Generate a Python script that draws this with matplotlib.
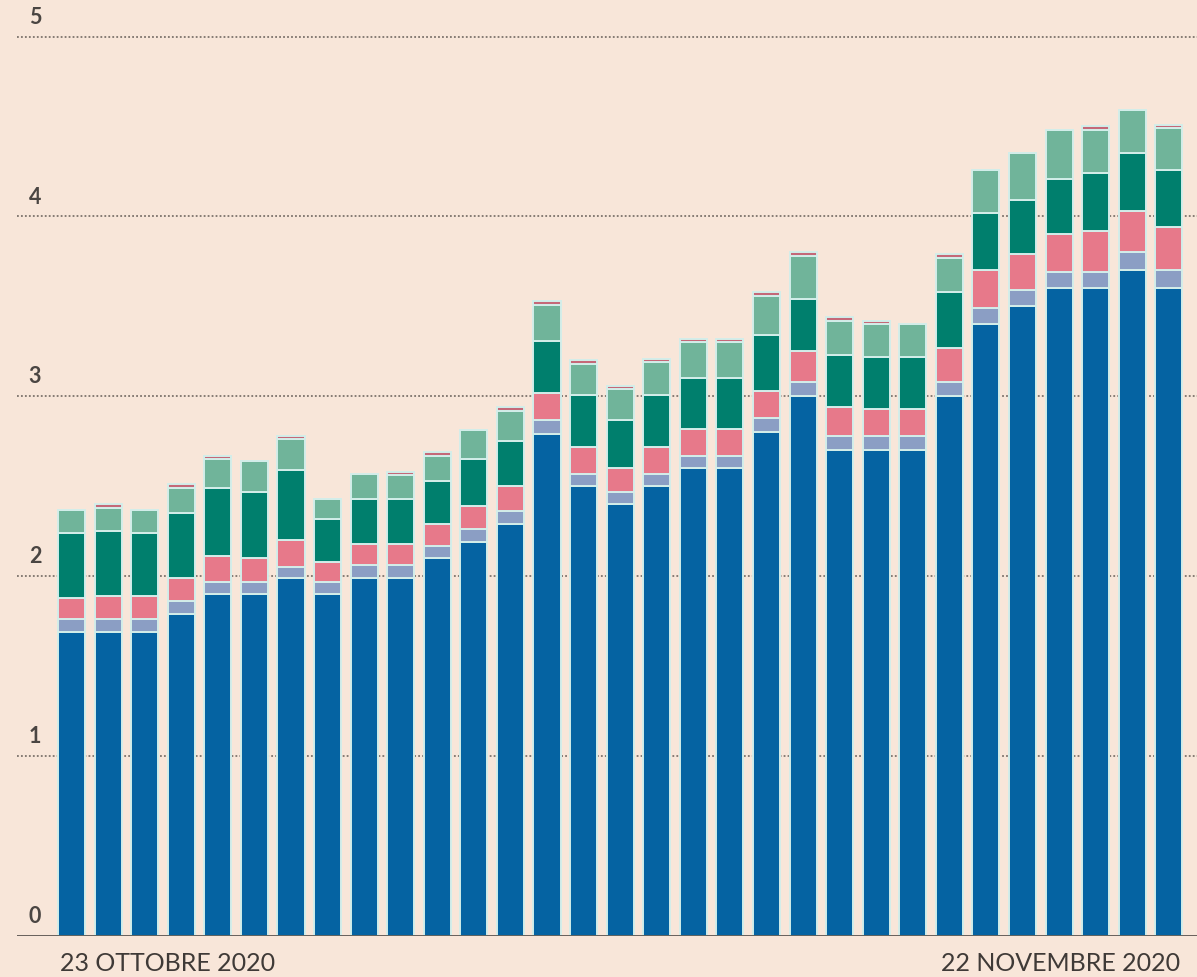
import matplotlib
matplotlib.use("Agg")
import matplotlib.pyplot as plt
import numpy as np

# --- Dati (23 ottobre - 22 novembre 2020) ---
giorni = list(range(31))

blu = [1.69, 1.69, 1.69, 1.79, 1.90, 1.90, 1.99, 1.90, 1.99, 1.99, 2.10,
       2.19, 2.29, 2.79, 2.50, 2.40, 2.50, 2.60, 2.60, 2.80, 3.00, 2.70,
       2.70, 2.70, 3.00, 3.40, 3.50, 3.60, 3.60, 3.70, 3.60]
grigio = [0.07, 0.07, 0.07, 0.07, 0.07, 0.07, 0.06, 0.07, 0.07, 0.07, 0.07,
          0.07, 0.07, 0.08, 0.07, 0.07, 0.07, 0.07, 0.07, 0.08, 0.08, 0.08,
          0.08, 0.08, 0.08, 0.09, 0.09, 0.09, 0.09, 0.10, 0.10]
rosa = [0.12, 0.13, 0.13, 0.13, 0.14, 0.13, 0.15, 0.11, 0.12, 0.12, 0.12,
        0.13, 0.14, 0.15, 0.15, 0.13, 0.15, 0.15, 0.15, 0.15, 0.17, 0.16,
        0.15, 0.15, 0.19, 0.21, 0.20, 0.21, 0.23, 0.23, 0.24]
verde_scuro = [0.36, 0.36, 0.35, 0.36, 0.38, 0.37, 0.39, 0.24, 0.25, 0.25, 0.24,
               0.26, 0.25, 0.29, 0.29, 0.27, 0.29, 0.28, 0.28, 0.31, 0.29, 0.29,
               0.29, 0.29, 0.31, 0.32, 0.30, 0.31, 0.32, 0.32, 0.32]
verde_chiaro = [0.13, 0.13, 0.13, 0.14, 0.16, 0.17, 0.17, 0.11, 0.14, 0.13, 0.14,
                0.16, 0.17, 0.20, 0.17, 0.17, 0.18, 0.20, 0.20, 0.22, 0.24, 0.19,
                0.18, 0.18, 0.19, 0.24, 0.26, 0.27, 0.24, 0.24, 0.23]
rosso = [0.00, 0.02, 0.00, 0.02, 0.02, 0.00, 0.02, 0.00, 0.00, 0.02, 0.02,
         0.00, 0.02, 0.02, 0.02, 0.02, 0.02, 0.02, 0.02, 0.02, 0.02, 0.02,
         0.02, 0.00, 0.02, 0.00, 0.00, 0.00, 0.02, 0.00, 0.02]

tacche_y = [0, 1, 2, 3, 4, 5]
etichetta_inizio = "23 OTTOBRE 2020"
etichetta_fine = "22 NOVEMBRE 2020"

# --- Stile ---
SFONDO = "#f8e6d9"
BORDO = "#d3eeea"
TESTO = "#4a4542"
COLORI = ["#0563a2", "#8b9ec4", "#e7798a", "#007f6d", "#70b49a", "#c56878"]

fig = plt.figure(figsize=(11.97, 9.78), dpi=100, facecolor=SFONDO)
ax = fig.add_axes([17 / 1197, 41 / 978, 1 - 17 / 1197, 927 / 978])
ax.set_facecolor(SFONDO)

# Griglia punteggiata (dietro le barre)
for v in tacche_y[1:]:
    ax.axhline(v, color="#7d736c", linestyle=(0, (1, 1.2)), linewidth=1.3, zorder=0)
ax.axhline(0, color="#3d3836", linewidth=1.8, zorder=4)

# Barre impilate
serie = [blu, grigio, rosa, verde_scuro, verde_chiaro, rosso]
base = np.zeros(len(giorni))
for valori, colore in zip(serie, COLORI):
    valori = np.array(valori)
    ax.bar(giorni, valori, bottom=base, width=0.74, color=colore,
           edgecolor=BORDO, linewidth=1.4, zorder=2)
    base += valori

ax.set_xlim(-1.49, 30.77)
ax.set_ylim(0, 5.153)
ax.axis("off")

# Etichette asse y sopra le linee
for v in tacche_y:
    ax.text(-1.17, v + 0.055, str(v), fontsize=15.5, color=TESTO,
            fontfamily="Lato", fontweight="bold", ha="left", va="bottom")

# Date
fig.text(60 / 1197, 3 / 978, etichetta_inizio, fontsize=18, color="#3f3a37",
         fontfamily="Lato", ha="left", va="bottom")
fig.text(1180 / 1197, 3 / 978, etichetta_fine, fontsize=18, color="#3f3a37",
         fontfamily="Lato", ha="right", va="bottom")

plt.savefig("out.png", dpi=100, facecolor=SFONDO)
plt.close()
